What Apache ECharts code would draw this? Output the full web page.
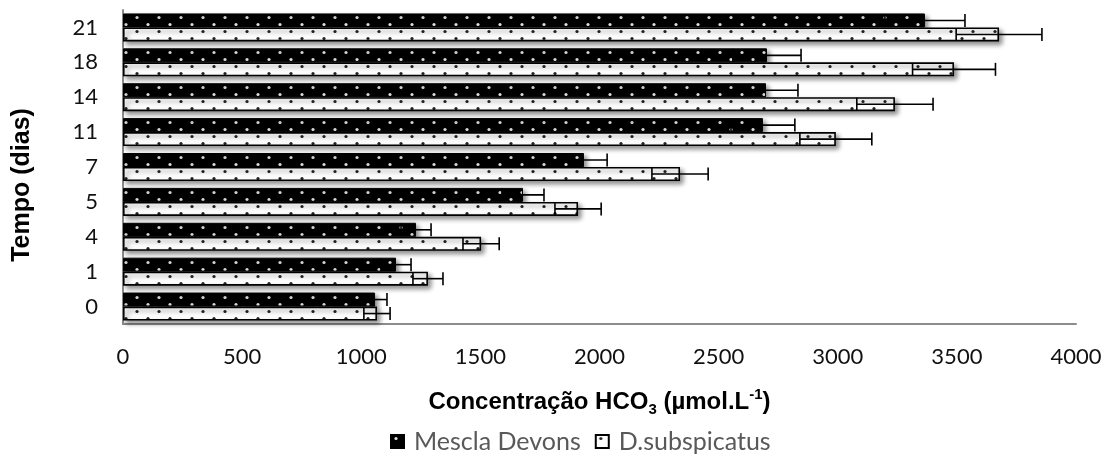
<!DOCTYPE html>
<html>
<head>
<meta charset="utf-8">
<script src="https://cdn.jsdelivr.net/npm/echarts@6/dist/echarts.min.js"></script>
<style>
  html, body { margin: 0; padding: 0; background: #fff; }
  #main { width: 1106px; height: 454px; }
</style>
</head>
<body>
<div id="main"></div>
<script>
// dias
var dias = ['0', '1', '4', '5', '7', '11', '14', '18', '21'];
// Mescla Devons
var mescla = [1058, 1146, 1230, 1679, 1935, 2686, 2699, 2703, 3366];
var mesclaErr = [50, 63, 63, 88, 97, 134, 134, 143, 168];
// D.subspicatus
var dsub = [1066, 1280, 1503, 1910, 2338, 2992, 3240, 3488, 3677];
var dsubErr = [55, 63, 76, 97, 118, 151, 160, 174, 180];
var xTicks = [0, 500, 1000, 1500, 2000, 2500, 3000, 3500, 4000];

// motivo pontilhado das barras
function dotPattern(bg, dot) {
  var c = document.createElement('canvas');
  c.width = 22; c.height = 14;
  var g = c.getContext('2d');
  g.fillStyle = bg;
  g.fillRect(0, 0, 22, 14);
  g.fillStyle = dot;
  [[5, 3.5], [16, 10.5]].forEach(function (p) {
    g.beginPath();
    g.arc(p[0], p[1], 1.6, 0, Math.PI * 2);
    g.fill();
  });
  return c;
}
var blackPat = { image: dotPattern('#000', '#e0e0e0'), repeat: 'repeat' };
var whitePat = { image: dotPattern('#fff', '#222'), repeat: 'repeat' };

var shadow = {
  shadowColor: 'rgba(0,0,0,0.45)',
  shadowBlur: 5,
  shadowOffsetX: 3,
  shadowOffsetY: 3
};

// barras de erro (simétricas)
function errorSeries(vals, errs, off) {
  return {
    type: 'custom',
    z: 5,
    silent: true,
    renderItem: function (params, api) {
      var cat = api.value(0), v = api.value(1), e = api.value(2);
      var lo = api.coord([v - e, cat]);
      var hi = api.coord([v + e, cat]);
      var y = lo[1] + off;
      var h = 6.5;
      var st = { stroke: '#000', lineWidth: 1.6 };
      return {
        type: 'group',
        children: [
          { type: 'line', shape: { x1: lo[0], y1: y, x2: hi[0], y2: y }, style: st },
          { type: 'line', shape: { x1: lo[0], y1: y - h, x2: lo[0], y2: y + h }, style: st },
          { type: 'line', shape: { x1: hi[0], y1: y - h, x2: hi[0], y2: y + h }, style: st }
        ]
      };
    },
    encode: { x: 1, y: 0 },
    data: dias.map(function (d, i) { return [i, vals[i], errs[i]]; })
  };
}

var chart = echarts.init(document.getElementById('main'));
chart.setOption({
  animation: false,
  grid: { left: 123, right: 30, top: 10, bottom: 130 },
  legend: {
    data: ['Mescla Devons', 'D.subspicatus'],
    left: 385,
    top: 424,
    icon: 'rect',
    itemWidth: 13,
    itemHeight: 13,
    itemGap: 14,
    textStyle: { fontFamily: 'Lato', fontSize: 25, color: '#595959', padding: [0, 0, 0, 5] }
  },
  xAxis: {
    type: 'value',
    min: 0,
    max: 4000,
    interval: 500,
    axisLine: { show: true, lineStyle: { color: '#8c8c8c', width: 2 } },
    axisTick: { show: false },
    splitLine: { show: false },
    axisLabel: {
      margin: 22,
      fontFamily: 'Lato',
      fontSize: 22,
      color: '#111',
      formatter: function (v) { return xTicks.indexOf(v) >= 0 ? String(v) : ''; }
    },
    name: '{b|Concentração HCO}{sub|3}{b| (µmol.L}{sup|-1}{b|)}',
    nameLocation: 'middle',
    nameGap: 63,
    nameTextStyle: {
      rich: {
        b: { fontFamily: 'Liberation Sans', fontWeight: 'bold', fontSize: 24, color: '#000', lineHeight: 30 },
        sub: { fontFamily: 'Liberation Sans', fontWeight: 'bold', fontSize: 15, color: '#000', verticalAlign: 'bottom', lineHeight: 14 },
        sup: { fontFamily: 'Liberation Sans', fontWeight: 'bold', fontSize: 15, color: '#000', verticalAlign: 'top', lineHeight: 22 }
      }
    }
  },
  yAxis: {
    type: 'category',
    data: dias,
    axisLine: { show: true, lineStyle: { color: '#8c8c8c', width: 2 } },
    axisTick: { show: false },
    axisLabel: { margin: 25, fontFamily: 'Lato', fontSize: 22, color: '#111' },
    name: 'Tempo (dias)',
    nameLocation: 'middle',
    nameGap: 88,
    nameTextStyle: {
      fontFamily: 'Liberation Sans', fontWeight: 'bold', fontSize: 25, color: '#000',
      padding: [0, 36, 0, 0]
    }
  },
  series: [
    {
      name: 'Mescla Devons',
      type: 'bar',
      data: mescla,
      barWidth: 14,
      barGap: '0%',
      barCategoryGap: '20%',
      itemStyle: Object.assign({ color: blackPat, borderColor: '#000', borderWidth: 1 }, shadow)
    },
    {
      name: 'D.subspicatus',
      type: 'bar',
      data: dsub,
      barWidth: 14,
      barGap: '0%',
      barCategoryGap: '20%',
      itemStyle: Object.assign({ color: whitePat, borderColor: '#000', borderWidth: 1.6 }, shadow)
    },
    errorSeries(mescla, mesclaErr, -7),
    errorSeries(dsub, dsubErr, 7)
  ]
});
</script>
</body>
</html>
